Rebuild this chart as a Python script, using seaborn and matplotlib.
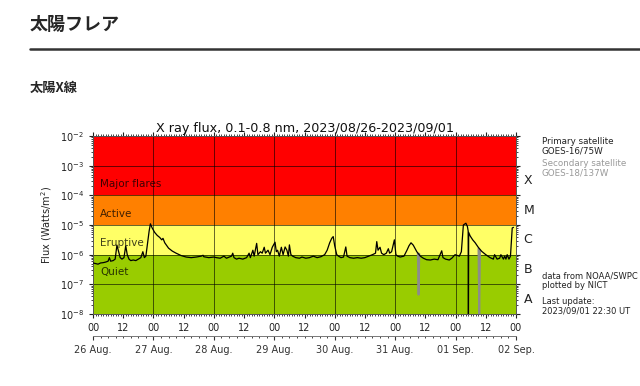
import numpy as np
import pandas as pd
import matplotlib
matplotlib.use("Agg")
import matplotlib.pyplot as plt
import seaborn as sns
from matplotlib.ticker import FixedLocator, LogLocator, NullFormatter

# ---------------- data ----------------
# primary satellite GOES-16: hours since 2023-08-26 00:00 UT, log10 flux (W/m^2)
prim_hours = [0, 1, 2, 3, 4, 5, 6, 6.5, 7, 8, 8.8, 9.5, 10.2, 10.8, 11.5, 12.3, 13, 13.6,
              14.3, 15, 16, 17, 18, 19, 19.8, 20.4, 21, 21.7, 22.3, 22.8, 23.5, 24.5,
              25.5, 26.5, 27.3, 27.8, 28.5, 30, 31.5, 33, 35, 37, 39, 41, 43, 43.7, 44,
              46, 48, 49, 50.5, 52, 53, 55, 55.5, 56, 57, 58, 59.5, 61, 62, 62.5, 63.5,
              64, 65, 65.5, 66.5, 67.2, 68, 68.5, 69.5, 70.3, 71.2, 72.3, 72.8, 73.3, 74,
              74.8, 75.5, 76.3, 77, 77.6, 78, 78.6, 79.3, 80.5, 82, 83, 84.5, 86, 87.5,
              89, 90.5, 92, 93, 94, 94.8, 95.4, 96, 96.8, 97.5, 98.5, 99.5, 100.4, 100.9,
              102, 103.5, 105, 106.5, 108, 109.5, 111, 112.2, 112.7, 113.2, 114, 114.6,
              115.5, 116.5, 117.3, 117.8, 118.6, 119.7, 120.3, 121, 122, 123.5, 124.7,
              125.5, 126.3, 127.2, 128.6, 130, 131.2, 132.5, 134, 135.5, 137, 138.5, 139,
              140, 141.5, 142.5, 143.8, 144.5, 145.5, 146.3, 147.1, 148.1, 148.7, 149.0,
              149.1, 149.2, 149.8, 150.8, 151.8, 153, 154.4, 156, 157.7, 159, 159.5,
              160.5, 161.5, 162, 163, 163.5, 164, 164.5, 165.2, 165.8, 166.5, 167]
prim_logf = [-6.28, -6.30, -6.32, -6.28, -6.27, -6.25, -6.22, -6.10, -6.22, -6.20, -6.15,
             -5.68, -5.90, -6.10, -6.15, -6.10, -5.70, -6.00, -6.15, -6.20, -6.18, -6.20,
             -6.15, -6.10, -5.90, -6.10, -6.05, -5.60, -5.20, -4.96, -5.10, -5.25, -5.35,
             -5.42, -5.50, -5.45, -5.60, -5.78, -5.88, -5.95, -6.03, -6.08, -6.10, -6.08,
             -6.05, -6.02, -6.07, -6.10, -6.08, -6.10, -6.12, -6.05, -6.12, -6.05, -5.95,
             -6.10, -6.15, -6.12, -6.15, -6.10, -5.95, -6.10, -5.85, -6.05, -5.62, -6.00,
             -5.90, -5.95, -5.75, -5.95, -5.85, -6.00, -5.75, -5.58, -5.90, -5.85, -6.05,
             -5.75, -6.00, -5.74, -5.85, -6.05, -5.67, -6.00, -6.05, -6.10, -6.12, -6.08,
             -6.12, -6.10, -6.05, -6.10, -6.07, -6.00, -5.85, -5.60, -5.45, -5.39, -5.70,
             -6.00, -6.05, -6.10, -6.08, -5.74, -6.05, -6.10, -6.12, -6.10, -6.12, -6.10,
             -6.05, -6.00, -5.95, -5.56, -5.85, -5.75, -5.95, -6.00, -5.95, -5.80, -5.95,
             -5.90, -5.50, -6.00, -6.05, -6.08, -6.05, -5.85, -5.70, -5.60, -5.68, -5.90,
             -6.05, -6.12, -6.17, -6.18, -6.15, -6.17, -5.87, -6.10, -6.15, -6.18, -6.12,
             -6.00, -6.02, -6.05, -5.90, -5.00, -4.94, -5.05, -5.20, -8.50, -5.25, -5.37,
             -5.50, -5.60, -5.75, -5.89, -6.00, -6.10, -6.15, -6.00, -6.15, -6.12, -6.00,
             -6.15, -6.05, -6.15, -6.00, -6.15, -6.05, -5.10, -5.08]

# secondary satellite GOES-18 (only visible where it drops below the primary)
sec_hours = [129.0, 129.3, 129.6, 153.1, 153.4, 153.7]
sec_logf = [-5.95, -7.35, -5.97, -5.80, -8.10, -5.85]
sec_seg = [1, 1, 1, 2, 2, 2]

bands = [(-4, -2, "#FF0000"), (-5, -4, "#FF8000"), (-6, -5, "#FFFF66"), (-8, -6, "#99CC00")]
band_labels = ["Major flares", "Active", "Eruptive", "Quiet"]
band_label_pos = [-3.62, -4.62, -5.62, -6.6]
class_letters = ["X", "M", "C", "B", "A"]
class_pos = [-3.5, -4.5, -5.5, -6.5, -7.5]
hour_ticks = list(range(0, 169, 12))
hour_labels = ["00" if h % 24 == 0 else "12" for h in hour_ticks]
day_ticks = list(range(0, 169, 24))
day_labels = ["26 Aug.", "27 Aug.", "28 Aug.", "29 Aug.", "30 Aug.", "31 Aug.", "01 Sep.", "02 Sep."]

# ---------------- figure ----------------
sns.set_style("ticks")
plt.rcParams["font.family"] = ["DejaVu Sans"]
jp = ["Noto Sans CJK JP", "DejaVu Sans"]

fig = plt.figure(figsize=(6.4, 3.86), dpi=100)
fig.text(30 / 640, 1 - 24 / 386, "太陽フレア", family=jp, fontsize=13, fontweight="bold",
         va="center", ha="left")
fig.add_artist(plt.Line2D([30 / 640, 1.0], [1 - 49 / 386] * 2, color="#333333", lw=1.8,
                          transform=fig.transFigure))
fig.text(30 / 640, 1 - 88 / 386, "太陽X線", family=jp, fontsize=9.5, fontweight="bold",
         va="center", ha="left")

ax = fig.add_axes([93 / 640, 1 - 314 / 386, (516 - 93) / 640, (314 - 136) / 386])

for lo, hi, c in bands:
    ax.axhspan(10 ** lo, 10 ** hi, color=c, lw=0, zorder=0)

pdf = pd.DataFrame({"h": prim_hours, "f": np.power(10.0, prim_logf)})
sdf = pd.DataFrame({"h": sec_hours, "f": np.power(10.0, sec_logf), "seg": sec_seg})
sns.lineplot(data=sdf, x="h", y="f", units="seg", estimator=None, sort=False,
             color="#8c8c8c", lw=1.4, ax=ax, zorder=3)
sns.lineplot(data=pdf, x="h", y="f", estimator=None, sort=False, color="black", lw=0.9,
             ax=ax, zorder=4)

ax.set_yscale("log")
ax.set_ylim(1e-8, 1e-2)
ax.set_xlim(0, 168)
ax.set_xticks(hour_ticks)
ax.set_xticklabels(hour_labels)
ax.xaxis.set_minor_locator(FixedLocator(list(range(0, 169))))
ax.yaxis.set_major_locator(LogLocator(base=10, numticks=10))
ax.yaxis.set_minor_locator(LogLocator(base=10, subs=np.arange(2, 10), numticks=20))
ax.yaxis.set_minor_formatter(NullFormatter())
ax.tick_params(axis="both", which="major", labelsize=7, length=3, direction="out",
               colors="#222222", top=True, right=True)
ax.tick_params(axis="both", which="minor", length=1.5, direction="out", top=True, right=True)
ax.set_xlabel("")
ax.set_ylabel("Flux (Watts/m$^2$)", fontsize=7, color="#222222")

ax.set_axisbelow("line")
ax.grid(False)
for d in day_ticks[1:-1]:
    ax.axvline(d, color="black", lw=0.7, alpha=0.6, zorder=2)
for e in range(-7, -2):
    ax.axhline(10.0 ** e, color="black", lw=0.7, alpha=0.6, zorder=2)
for s in ax.spines.values():
    s.set_color("#555555")
    s.set_linewidth(0.7)

for lab, p in zip(band_labels, band_label_pos):
    ax.text(2.8, 10 ** p, lab, fontsize=7.5, color="black", alpha=0.75, va="center",
            ha="left", zorder=5)
for lab, p in zip(class_letters, class_pos):
    ax.text(171, 10 ** p, lab, fontsize=9, color="#222222", va="center", ha="left",
            clip_on=False)

ax.set_title("X ray flux, 0.1-0.8 nm, 2023/08/26-2023/09/01", fontsize=9.2, pad=3,
             color="#111111")

sec = ax.secondary_xaxis(-0.125)
sec.set_xticks(day_ticks)
sec.set_xticklabels(day_labels)
sec.xaxis.set_minor_locator(FixedLocator(list(range(0, 169, 3))))
sec.tick_params(which="major", labelsize=7, length=3, colors="#333333")
sec.tick_params(which="minor", length=1.5)
sec.spines["bottom"].set_color("#777777")
sec.spines["bottom"].set_linewidth(0.7)

fig.text(542 / 640, 1 - 146 / 386, "Primary satellite\nGOES-16/75W", fontsize=6.3,
         color="#222222", va="center", ha="left", linespacing=1.1)
fig.text(542 / 640, 1 - 168 / 386, "Secondary satellite\nGOES-18/137W", fontsize=6.3,
         color="#999999", va="center", ha="left", linespacing=1.1)
fig.text(542 / 640, 1 - 281 / 386, "data from NOAA/SWPC\nplotted by NICT", fontsize=6.0,
         color="#222222", va="center", ha="left", linespacing=1.1)
fig.text(542 / 640, 1 - 306 / 386, "Last update:\n2023/09/01 22:30 UT", fontsize=6.0,
         color="#222222", va="center", ha="left", linespacing=1.1)

fig.savefig("out.png", dpi=100)
